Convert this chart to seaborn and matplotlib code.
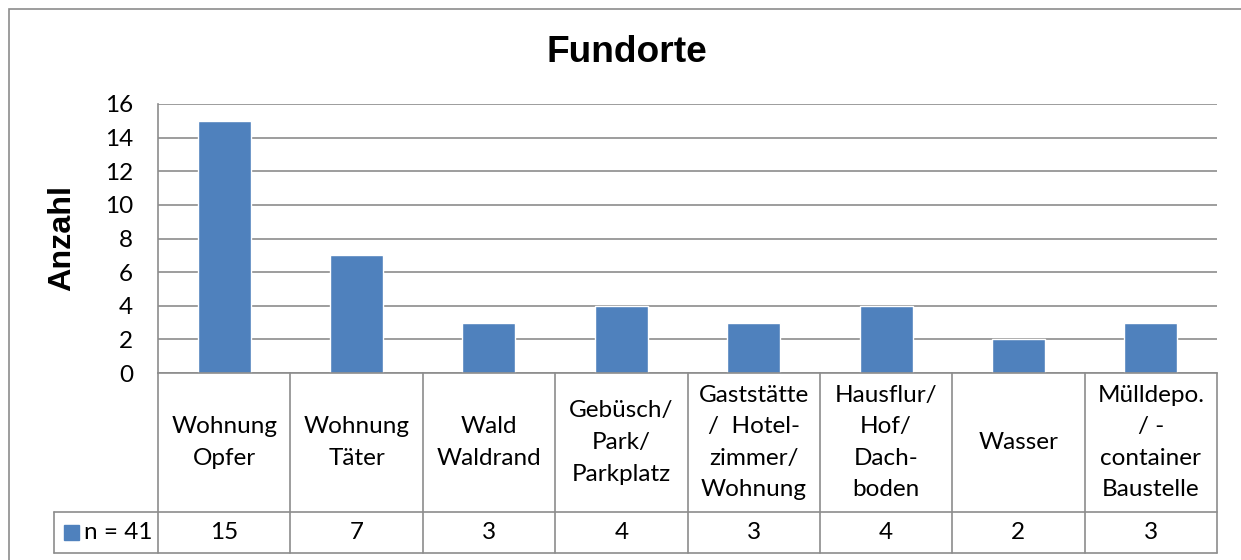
import matplotlib
matplotlib.use("Agg")
import matplotlib.pyplot as plt
import seaborn as sns
import pandas as pd

# Data
categories = ["Wohnung\nOpfer", "Wohnung\nTäter", "Wald\nWaldrand",
              "Gebüsch/\nPark/\nParkplatz", "Gaststätte\n/  Hotel-\nzimmer/\nWohnung",
              "Hausflur/\nHof/\nDach-\nboden", "Wasser",
              "Mülldepo.\n/ -\ncontainer\nBaustelle"]
values = [15, 7, 3, 4, 3, 4, 2, 3]
series_name = "n = 41"
yticks = [0, 2, 4, 6, 8, 10, 12, 14, 16]

BAR = "#4F81BD"
GRID = "#8C8C8C"
TXT_FONT = ["Lato", "DejaVu Sans"]
BOLD_FONT = ["Liberation Sans", "DejaVu Sans"]
FS = 17.5

sns.set_style("white")
plt.rcParams["text.color"] = "black"
plt.rcParams["ytick.color"] = "black"

W, H = 1241, 560
fig = plt.figure(figsize=(W / 100, H / 100), dpi=100)

# plot area in pixel coords
left, right, top, bottom = 158, 1217, 104, 373
ax = fig.add_axes([left / W, 1 - bottom / H, (right - left) / W, (bottom - top) / H])

df = pd.DataFrame({"cat": categories, "val": values})
sns.barplot(data=df, x="cat", y="val", color=BAR, saturation=1, width=0.4, ax=ax)

ax.set_xlim(-0.5, len(categories) - 0.5)
ax.set_ylim(0, 16)
ax.set_yticks(yticks)
ax.set_yticklabels([str(t) for t in yticks], family=TXT_FONT, fontsize=FS)
ax.tick_params(axis="y", length=0, pad=18)
ax.set_xticks([])
ax.set_xlabel("")
ax.set_ylabel("")
ax.grid(axis="y", color=GRID, linewidth=1.2)
ax.set_axisbelow(True)
for s in ["top", "right"]:
    ax.spines[s].set_visible(False)
for s in ["left", "bottom"]:
    ax.spines[s].set_color(GRID)
    ax.spines[s].set_linewidth(1.2)

# data table below the axis
tr = ax.get_xaxis_transform()
px = (right - left) / len(categories)
row_line = (bottom - 512) / (bottom - top)
tab_bot = (bottom - 553) / (bottom - top)
cat_mid = (bottom - 442.5) / (bottom - top)
val_mid = (bottom - 532.5) / (bottom - top)
leg_left = -0.5 - (left - 54) / px

n = len(categories)
for i in range(n + 1):
    ax.plot([i - 0.5, i - 0.5], [0, tab_bot], transform=tr, color=GRID, lw=1.2, clip_on=False)
ax.plot([leg_left, n - 0.5], [row_line, row_line], transform=tr, color=GRID, lw=1.2, clip_on=False)
ax.plot([leg_left, n - 0.5], [tab_bot, tab_bot], transform=tr, color=GRID, lw=1.2, clip_on=False)
ax.plot([leg_left, leg_left], [row_line, tab_bot], transform=tr, color=GRID, lw=1.2, clip_on=False)

for i, (c, v) in enumerate(zip(categories, values)):
    ax.text(i, cat_mid, c, transform=tr, ha="center", va="center", family=TXT_FONT,
            fontsize=FS, linespacing=1.62, clip_on=False)
    ax.text(i, val_mid, str(v), transform=tr, ha="center", va="center", family=TXT_FONT,
            fontsize=FS, clip_on=False)

# legend key in the table
sq_l = -0.5 - (left - 64) / px
sq_w = 15 / px
sq_h = 15 / (bottom - top)
ax.add_patch(plt.Rectangle((sq_l, val_mid - sq_h / 2), sq_w, sq_h, transform=tr,
                           color=BAR, clip_on=False))
ax.text(-0.5 - (left - 84) / px, val_mid, series_name, transform=tr, ha="left", va="center",
        family=TXT_FONT, fontsize=FS, clip_on=False)

# title and axis label
fig.text(627 / W, 1 - 52 / H, "Fundorte", ha="center", va="center", family=BOLD_FONT,
         fontweight="bold", fontsize=26.7)
fig.text(62 / W, 1 - 238 / H, "Anzahl", ha="center", va="center", rotation=90,
         family=BOLD_FONT, fontweight="bold", fontsize=23.3)

# outer chart border (only top/left visible in crop)
fig.add_artist(plt.Rectangle((9 / W, -0.1), 1.2, 1 - 9 / H + 0.1, transform=fig.transFigure,
                             fill=False, edgecolor=GRID, lw=1.2))

fig.savefig("out.png", dpi=100)
